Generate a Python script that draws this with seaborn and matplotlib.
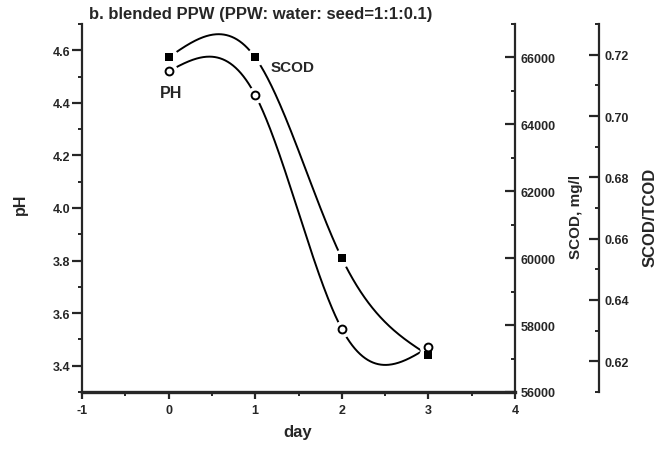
import numpy as np
import pandas as pd
import matplotlib
matplotlib.use("Agg")
import matplotlib.pyplot as plt
import seaborn as sns
from matplotlib.ticker import MultipleLocator, FixedLocator

days = [0, 1, 2, 3]
ph_values = [4.52, 4.43, 3.54, 3.47]
scod_values = [66000, 66000, 60000, 57100]
title_text = "b. blended PPW (PPW: water: seed=1:1:0.1)"

sns.set_style("ticks")
plt.rcParams['font.family'] = ['Liberation Sans', 'DejaVu Sans']
plt.rcParams['font.weight'] = 'bold'
plt.rcParams['axes.unicode_minus'] = False


def natural_spline(x, y, xs):
    x = np.asarray(x, float); y = np.asarray(y, float)
    n = len(x); h = np.diff(x)
    A = np.zeros((n, n)); b = np.zeros(n)
    A[0, 0] = 1; A[-1, -1] = 1
    for i in range(1, n - 1):
        A[i, i - 1] = h[i - 1]; A[i, i] = 2 * (h[i - 1] + h[i]); A[i, i + 1] = h[i]
        b[i] = 6 * ((y[i + 1] - y[i]) / h[i] - (y[i] - y[i - 1]) / h[i - 1])
    M = np.linalg.solve(A, b)
    out = np.empty_like(xs)
    for k, t in enumerate(xs):
        i = min(max(np.searchsorted(x, t) - 1, 0), n - 2)
        a = x[i + 1] - t; c = t - x[i]
        out[k] = (M[i] * a**3 + M[i + 1] * c**3) / (6 * h[i]) + \
                 (y[i] / h[i] - M[i] * h[i] / 6) * a + (y[i + 1] / h[i] - M[i + 1] * h[i] / 6) * c
    return out


xs = np.linspace(days[0], days[-1], 400)
df_pts = pd.DataFrame({"day": days, "pH": ph_values, "SCOD": scod_values})
df_ph = pd.DataFrame({"day": xs, "pH": natural_spline(days, ph_values, xs)})
df_scod = pd.DataFrame({"day": xs, "SCOD": natural_spline(days, scod_values, xs)})

W, H = 659, 452
fig = plt.figure(figsize=(W / 100, H / 100), dpi=100)
L, R, B, T = 82, 515, 393, 25
ax = fig.add_axes([L / W, 1 - B / H, (R - L) / W, (B - T) / H])
ax2 = ax.twinx()
ax3 = ax.twinx()
ax3.spines['right'].set_position(('axes', (599 - L) / (R - L)))
ax2.set_zorder(1)
ax3.set_zorder(1)
ax.set_zorder(3)

lw = 1.6
for a in (ax, ax2, ax3):
    a.patch.set_visible(False)
    a.spines['top'].set_visible(False)
    for s in a.spines.values():
        s.set_linewidth(lw)
ax.spines['right'].set_visible(False)
for a in (ax2, ax3):
    a.spines['left'].set_visible(False)
    a.spines['bottom'].set_visible(False)
ax.spines['bottom'].set_linewidth(2.4)

ax.set_xlim(-1, 4)
ax.set_ylim(3.3, 4.7)
ax2.set_ylim(56000, 67000)
ax3.set_ylim(0.61, 0.73)

sns.lineplot(data=df_scod, x="day", y="SCOD", ax=ax2, color="black", lw=1.4, zorder=2)
sns.lineplot(data=df_ph, x="day", y="pH", ax=ax, color="black", lw=1.4, zorder=2)
ax.scatter(df_pts["day"], df_pts["SCOD"], s=170, color="white", zorder=3, linewidths=0,
           transform=ax2.transData)
ax.scatter(df_pts["day"], df_pts["pH"], s=150, color="white", zorder=3, linewidths=0)
ax.scatter(df_pts["day"], df_pts["SCOD"], marker="s", s=32, color="black", zorder=5,
           linewidths=0, transform=ax2.transData)
sns.scatterplot(data=df_pts, x="day", y="pH", ax=ax, marker="o", s=32, facecolor="white",
                edgecolor="black", linewidth=1.4, zorder=6)
ax.set_xlim(-1, 4)
ax.set_ylim(3.3, 4.7)

ax.xaxis.set_major_locator(MultipleLocator(1))
ax.xaxis.set_minor_locator(MultipleLocator(0.5))
ax.yaxis.set_major_locator(FixedLocator([3.4, 3.6, 3.8, 4.0, 4.2, 4.4, 4.6]))
ax.yaxis.set_minor_locator(MultipleLocator(0.1))
ax2.yaxis.set_major_locator(MultipleLocator(2000))
ax2.yaxis.set_minor_locator(MultipleLocator(1000))
ax3.yaxis.set_major_locator(FixedLocator([0.62, 0.64, 0.66, 0.68, 0.70, 0.72]))
ax3.yaxis.set_minor_locator(FixedLocator([0.61, 0.63, 0.65, 0.67, 0.69, 0.71, 0.73]))
ax3.yaxis.set_major_formatter(matplotlib.ticker.FormatStrFormatter('%.2f'))

ax.tick_params(axis='y', which='major', direction='out', length=7, width=1.6, labelsize=9, pad=1.5)
ax.tick_params(axis='x', which='major', direction='out', length=5, width=1.6, labelsize=9, pad=4)
ax.tick_params(axis='both', which='minor', direction='out', length=3, width=1.4)
for a in (ax2, ax3):
    a.tick_params(axis='y', which='major', direction='in', length=7, width=1.6, labelsize=9, pad=4)
    a.tick_params(axis='y', which='minor', direction='in', length=3, width=1.4)
for a in (ax, ax2, ax3):
    for lab in a.get_xticklabels() + a.get_yticklabels():
        lab.set_fontweight('bold')

ax.set_xlabel("")
ax.set_ylabel("")
ax2.set_ylabel("")
ax3.set_ylabel("")

fig.text(298 / W, 1 - 433 / H, "day", ha='center', va='center', fontsize=12, fontweight='bold')
fig.text(20 / W, 1 - 204 / H, "pH", ha='center', va='center', rotation=90, fontsize=11.5, fontweight='bold')
fig.text(576 / W, 1 - 217 / H, "SCOD, mg/l", ha='center', va='center', rotation=90, fontsize=11, fontweight='bold')
fig.text(650 / W, 1 - 217 / H, "SCOD/TCOD", ha='center', va='center', rotation=90, fontsize=12, fontweight='bold')
fig.text(89 / W, 1 - 14 / H, title_text, ha='left', va='center', fontsize=12, fontweight='bold')

ax.text(0.03, 4.44, "PH", ha='center', va='center', fontsize=11.5, fontweight='bold')
ax.text(1.43, 4.536, "SCOD", ha='center', va='center', fontsize=11, fontweight='bold')

fig.savefig("out.png", dpi=100)
